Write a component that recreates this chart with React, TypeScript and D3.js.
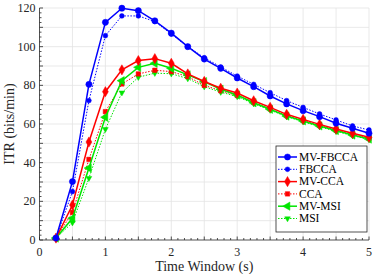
import { useEffect, useRef } from "react";
import * as d3 from "d3";

// time windows (s)
const timeWindows = [0.25, 0.5, 0.75, 1.0, 1.25, 1.5, 1.75, 2.0, 2.25, 2.5, 2.75, 3.0, 3.25, 3.5, 3.75, 4.0, 4.25, 4.5, 4.75, 5.0];

// ITR (bits/min) per method
const mvFbcca = [1, 30.2, 80.5, 112.6, 119.9, 118.6, 113.4, 107, 100, 93.6, 88.8, 83.8, 79.3, 74.5, 70.4, 66.9, 63.8, 60.4, 57.8, 55.2];
const fbcca = [1, 25, 72.1, 105.7, 115.9, 115.9, 113, 106.5, 100, 94.3, 89.5, 84.8, 80.5, 76.2, 72.1, 68.6, 65.2, 62.1, 59.0, 56.9];
const mvCca = [1, 18.1, 50.7, 76.7, 88, 92.8, 93.8, 91.4, 85.9, 82, 78.5, 76, 72, 68.6, 65, 62.4, 59.8, 57.4, 55.2, 53.1];
const cca = [1, 14.3, 41.7, 66.4, 80.7, 85.9, 87.8, 87.1, 84.5, 80, 77.2, 74.8, 71.2, 67.8, 64.4, 61.8, 59.2, 56.9, 54.6, 52.6];
const mvMsi = [1, 11.2, 37.2, 63.5, 82.4, 89.3, 91.4, 88.8, 85.4, 81.9, 78, 75, 71, 67.6, 64.1, 61.6, 59, 56.6, 54.3, 52.2];
const msi = [1, 9, 32, 57.3, 76.2, 84.2, 86.3, 86, 83.5, 79.3, 76.5, 74.2, 70.5, 67.2, 63.8, 61.2, 58.6, 56.2, 54, 52];

const xTickLabels = [0, 1, 2, 3, 4, 5];
const yTickLabels = [0, 20, 40, 60, 80, 100, 120];

type Series = {
  name: string;
  values: number[];
  color: string;
  dotted: boolean;
  symbol: d3.SymbolType;
  size: number;
  rotate: number;
};

const series: Series[] = [
  { name: "MV-FBCCA", values: mvFbcca, color: "#0000ff", dotted: false, symbol: d3.symbolCircle, size: 30, rotate: 0 },
  { name: "FBCCA", values: fbcca, color: "#0000ff", dotted: true, symbol: d3.symbolCircle, size: 18, rotate: 0 },
  { name: "MV-CCA", values: mvCca, color: "#ff0000", dotted: false, symbol: d3.symbolDiamond, size: 30, rotate: 0 },
  { name: "CCA", values: cca, color: "#ff0000", dotted: true, symbol: d3.symbolSquare, size: 20, rotate: 0 },
  { name: "MV-MSI", values: mvMsi, color: "#00e600", dotted: false, symbol: d3.symbolTriangle, size: 30, rotate: -90 },
  { name: "MSI", values: msi, color: "#00e600", dotted: true, symbol: d3.symbolTriangle, size: 14, rotate: 180 },
];

const W = 373;
const H = 274;
const FONT = "'Liberation Serif', 'Times New Roman', serif";

export default function App() {
  const svgRef = useRef<SVGSVGElement | null>(null);

  useEffect(() => {
    if (!svgRef.current) return;
    const svg = d3.select(svgRef.current);
    svg.selectAll("*").remove();

    const margin = { left: 39.5, right: 4, top: 8, bottom: 34 };
    const x = d3.scaleLinear().domain([0, 5]).range([margin.left, W - margin.right]);
    const y = d3.scaleLinear().domain([0, 120]).range([H - margin.bottom, margin.top]);
    const [x0, x1] = x.range();
    const [y0, y1] = y.range();

    // grid
    const grid = svg.append("g").attr("stroke", "#e3e3e3").attr("stroke-width", 0.8);
    d3.range(0.5, 5.01, 0.5).forEach((v) => {
      grid.append("line").attr("x1", x(v)).attr("x2", x(v)).attr("y1", y0).attr("y2", y1);
    });
    d3.range(10, 120.1, 10).forEach((v) => {
      grid.append("line").attr("x1", x0).attr("x2", x1).attr("y1", y(v)).attr("y2", y(v));
    });

    // axes with inward ticks
    const axis = svg.append("g").attr("stroke", "#262626").attr("stroke-width", 0.8);
    axis.append("line").attr("x1", x0).attr("x2", x1).attr("y1", y0).attr("y2", y0);
    axis.append("line").attr("x1", x0).attr("x2", x0).attr("y1", y0).attr("y2", y1);
    d3.range(0, 5.001, 0.1).forEach((v) => {
      const major = Math.abs(v * 2 - Math.round(v * 2)) < 1e-6;
      axis.append("line").attr("x1", x(v)).attr("x2", x(v)).attr("y1", y0).attr("y2", y0 - (major ? 3.5 : 2));
    });
    d3.range(0, 120.001, 2.5).forEach((v) => {
      const major = Math.abs(v % 10) < 1e-6;
      axis.append("line").attr("x1", x0).attr("x2", x0 + (major ? 3.5 : 2)).attr("y1", y(v)).attr("y2", y(v));
    });

    const labels = svg.append("g").attr("font-family", FONT).attr("fill", "#262626");
    xTickLabels.forEach((v) => {
      labels.append("text").attr("x", x(v)).attr("y", y0 + 16).attr("text-anchor", "middle").attr("font-size", 12).text(v);
    });
    yTickLabels.forEach((v) => {
      labels.append("text").attr("x", x0 - 4).attr("y", y(v) + 4).attr("text-anchor", "end").attr("font-size", 12).text(v);
    });
    labels.append("text").attr("x", (x0 + x1) / 2).attr("y", H - 3).attr("text-anchor", "middle").attr("font-size", 14).text("Time Window (s)");
    labels
      .append("text")
      .attr("transform", `translate(14,${(y0 + y1) / 2}) rotate(-90)`)
      .attr("text-anchor", "middle")
      .attr("font-size", 14)
      .text("ITR (bits/min)");

    const line = d3
      .line<number>()
      .x((_, i) => x(timeWindows[i]))
      .y((d) => y(d));

    // draw dotted series first, solid ones on top
    const order = [5, 3, 1, 4, 2, 0];
    order.forEach((k) => {
      const s = series[k];
      const g = svg.append("g");
      g.append("path")
        .datum(s.values)
        .attr("d", line)
        .attr("fill", "none")
        .attr("stroke", s.color)
        .attr("stroke-width", s.dotted ? 1 : 1.5)
        .attr("stroke-dasharray", s.dotted ? "1.5 1.5" : null);
      const sym = d3.symbol().type(s.symbol).size(s.size);
      g.selectAll("path.m")
        .data(s.values)
        .join("path")
        .attr("class", "m")
        .attr("d", sym)
        .attr("transform", (d, i) => `translate(${x(timeWindows[i])},${y(d)}) rotate(${s.rotate})`)
        .attr("fill", s.color)
        .attr("stroke", s.color)
        .attr("stroke-width", 0.5);
    });

    // legend
    const rowH = 12.3;
    const lg = svg.append("g").attr("transform", "translate(276,146)");
    lg.append("rect").attr("width", 91).attr("height", 86).attr("fill", "#fff").attr("stroke", "#262626").attr("stroke-width", 0.8);
    series.forEach((s, i) => {
      const ly = 11 + i * rowH;
      lg.append("line")
        .attr("x1", 2)
        .attr("x2", 21)
        .attr("y1", ly)
        .attr("y2", ly)
        .attr("stroke", s.color)
        .attr("stroke-width", s.dotted ? 1 : 1.5)
        .attr("stroke-dasharray", s.dotted ? "1.5 1.5" : null);
      lg.append("path")
        .attr("d", d3.symbol().type(s.symbol).size(s.size)())
        .attr("transform", `translate(11.5,${ly}) rotate(${s.rotate})`)
        .attr("fill", s.color)
        .attr("stroke", s.color)
        .attr("stroke-width", 0.5);
      lg.append("text")
        .attr("x", 23)
        .attr("y", ly + 3.8)
        .attr("font-family", FONT)
        .attr("font-size", 11.5)
        .attr("fill", "#000")
        .text(s.name);
    });
  }, []);

  return (
    <svg
      ref={svgRef}
      width={W}
      height={H}
      style={{ position: "absolute", left: 0, top: 0, background: "#fff" }}
    />
  );
}
